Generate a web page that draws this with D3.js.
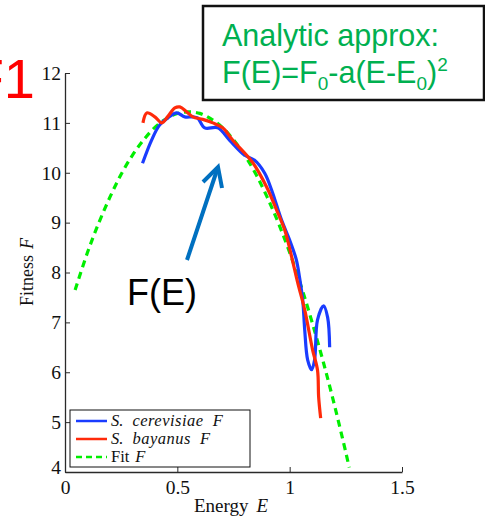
<!DOCTYPE html>
<html><head><meta charset="utf-8">
<script src="https://cdn.jsdelivr.net/npm/d3@7"></script>
<style>body{margin:0;background:#fff}svg{display:block}</style>
</head><body>
<script>
// ---- data ----
const cerevisiaeE = [0.345,0.385,0.42,0.458,0.497,0.533,0.57,0.59,0.622,0.68,0.733,0.8,0.844,0.889,0.92,0.964,1.0,1.03,1.044,1.058,1.067,1.08,1.098,1.111,1.124,1.151,1.169,1.178];
const cerevisiaeF = [10.19,10.65,10.95,11.1,11.2,11.12,11.12,11.1,10.9,10.9,10.65,10.35,10.25,9.99,9.65,9.05,8.65,8.25,7.9,7.45,6.85,6.25,6.05,6.25,7.05,7.33,7.1,6.5];
const bayanusE = [0.347,0.364,0.4,0.431,0.458,0.489,0.511,0.542,0.569,0.613,0.658,0.702,0.747,0.836,0.898,0.942,0.978,1.009,1.036,1.067,1.102,1.124,1.129,1.138];
const bayanusF = [11.0,11.2,11.12,11.0,11.13,11.3,11.32,11.22,11.12,11.07,11.0,10.9,10.65,10.2,9.71,9.25,8.85,8.31,7.79,7.25,6.45,6.04,5.5,5.08];
const fitE = [0.045,0.1,0.15,0.2,0.25,0.3,0.35,0.4,0.45,0.5,0.55,0.6,0.65,0.7,0.75,0.8,0.85,0.9,0.95,1.0,1.05,1.1,1.15,1.2,1.25,1.265];
const fitF = [7.65,8.40,8.99,9.51,9.97,10.35,10.66,10.91,11.08,11.19,11.22,11.19,11.08,10.91,10.66,10.35,9.97,9.51,8.99,8.40,7.74,7.00,6.20,5.33,4.39,4.09];
const xTicks = [0,0.5,1,1.5];
const xTickLabels = ["0","0.5","1","1.5"];
const yTicks = [4,5,6,7,8,9,10,11,12];
const legendLabels = ["S. cerevisiae F","S. bayanus F","Fit F"];

const W=485,H=518;
const svg=d3.select("body").append("svg").attr("width",W).attr("height",H);
const x=d3.scaleLinear().domain([0,1.5]).range([65,402]);
const y=d3.scaleLinear().domain([4,12]).range([472,73]);
const serif="'Liberation Serif','Times New Roman',serif";
const sans="'Liberation Sans',Arial,sans-serif";
const axisCol="#2a2a2a";

// axes
const xa=svg.append("g").attr("transform","translate(0,472)")
  .call(d3.axisBottom(x).tickValues(xTicks).tickFormat((d,i)=>xTickLabels[i]).tickSizeInner(-5).tickSizeOuter(0).tickPadding(8));
const ya=svg.append("g").attr("transform","translate(65,0)")
  .call(d3.axisLeft(y).tickValues(yTicks).tickFormat(d3.format("d")).tickSizeInner(-5).tickSizeOuter(0).tickPadding(4));
[xa,ya].forEach(g=>{
  g.select(".domain").attr("stroke",axisCol).attr("stroke-width",1.3);
  g.selectAll(".tick line").attr("stroke",axisCol);
  g.selectAll("text").attr("font-family",serif).attr("font-size",19.5).attr("fill","#111");
});
ya.selectAll(".tick").filter(d=>d===4).select("text").attr("dy","0.1em");

// axis labels
const yl=svg.append("text").attr("transform","translate(33,272) rotate(-90)")
  .attr("text-anchor","middle").attr("font-family",serif).attr("font-size",18).attr("fill","#111");
yl.append("tspan").text("Fitness");
yl.append("tspan").attr("dx",6).attr("font-style","italic").text("F");
const xl=svg.append("text").attr("x",231).attr("y",512)
  .attr("text-anchor","middle").attr("font-family",serif).attr("font-size",19).attr("fill","#111");
xl.append("tspan").text("Energy");
xl.append("tspan").attr("dx",8).attr("font-style","italic").text("E");

// lines
const line=d3.line().x(d=>x(d[0])).y(d=>y(d[1])).curve(d3.curveCatmullRom.alpha(0.5));
const zip=(a,b)=>a.map((v,i)=>[v,b[i]]);
svg.append("path").datum(zip(fitE,fitF)).attr("d",line).attr("fill","none")
  .attr("stroke","#00ee00").attr("stroke-width",3.2).attr("stroke-dasharray","7,5");
svg.append("path").datum(zip(cerevisiaeE,cerevisiaeF)).attr("d",line).attr("fill","none")
  .attr("stroke","#1a3cff").attr("stroke-width",3.2).attr("stroke-linejoin","round");
svg.append("path").datum(zip(bayanusE,bayanusF)).attr("d",line).attr("fill","none")
  .attr("stroke","#ff2a0a").attr("stroke-width",3.2).attr("stroke-linejoin","round");

// legend
const lg=svg.append("g");
lg.append("rect").attr("x",70).attr("y",410).attr("width",180).attr("height",57)
  .attr("fill","#fff").attr("stroke","#111").attr("stroke-width",1);
const lcols=["#1a3cff","#ff2a0a","#00ee00"];
const rows=[421,439,457];
legendLabels.forEach((lab,i)=>{
  lg.append("line").attr("x1",76).attr("x2",107).attr("y1",rows[i]).attr("y2",rows[i])
    .attr("stroke",lcols[i]).attr("stroke-width",2.5).attr("stroke-dasharray",i===2?"6,4":null);
  const t=lg.append("text").attr("x",111).attr("y",rows[i]+5).attr("font-family",serif).attr("font-size",16.5).attr("fill","#111");
  const parts=lab.split(" ");
  if(i<2){
    t.append("tspan").attr("font-style","italic").text(parts[0]);
    t.append("tspan").attr("dx",9).attr("font-style","italic").attr("letter-spacing",0.5).text(parts[1]);
    t.append("tspan").attr("dx",9).attr("font-style","italic").text(parts[2]);
  } else {
    t.append("tspan").text(parts[0]);
    t.append("tspan").attr("dx",6).attr("font-style","italic").text(parts[1]);
  }
});

// annotation box
svg.append("rect").attr("x",203).attr("y",6).attr("width",281).attr("height",94)
  .attr("fill","#fff").attr("stroke","#111").attr("stroke-width",2.5);
const green="#00b050";
svg.append("text").attr("x",222).attr("y",46).attr("font-family",sans).attr("font-size",30.5).attr("fill",green).text("Analytic approx:");
const f=svg.append("text").attr("x",222).attr("y",83).attr("font-family",sans).attr("font-size",30.5).attr("fill",green);
f.append("tspan").text("F(E)=F");
f.append("tspan").attr("font-size",19).attr("dy",7).text("0");
f.append("tspan").attr("dy",-7).text("-a(E-E");
f.append("tspan").attr("font-size",19).attr("dy",7).text("0");
f.append("tspan").attr("dy",-7).text(")");
f.append("tspan").attr("font-size",19).attr("dy",-12).text("2");

// F1 label
svg.append("text").attr("x",35).attr("y",98).attr("text-anchor","end").attr("font-family",sans)
  .attr("font-size",56).attr("fill","#ff0000").text("F1");

// arrow and F(E)
const ac="#0070c0";
svg.append("line").attr("x1",187).attr("y1",260).attr("x2",217).attr("y2",170)
  .attr("stroke",ac).attr("stroke-width",4);
svg.append("path").attr("d","M203,182 L218,167 L222,188").attr("fill","none")
  .attr("stroke",ac).attr("stroke-width",4).attr("stroke-linejoin","miter");
svg.append("text").attr("x",127).attr("y",305).attr("font-family",sans).attr("font-size",36).attr("fill","#000").text("F(E)");
</script>
</body></html>
